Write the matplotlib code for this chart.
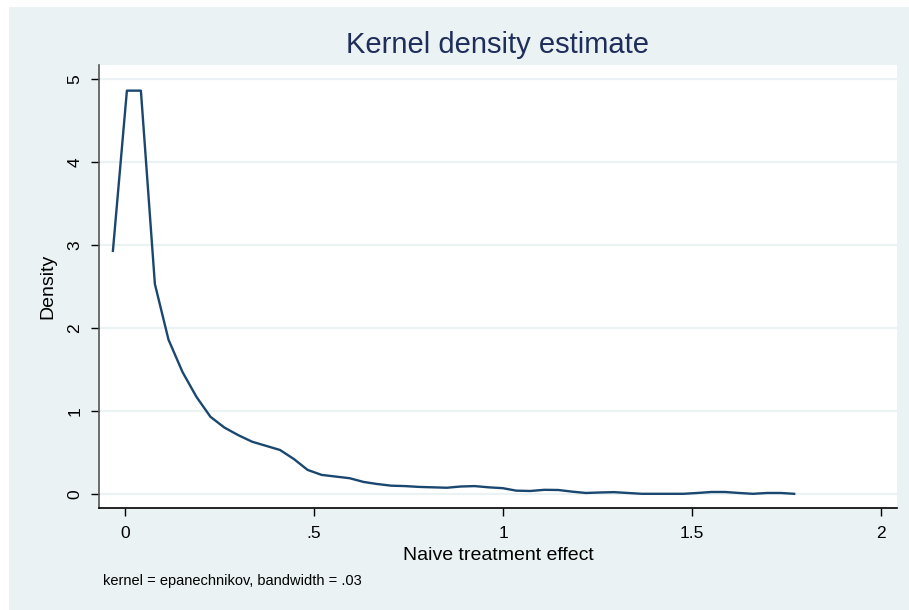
import matplotlib.pyplot as plt
from matplotlib.patches import Rectangle

plt.rcParams['font.family'] = ['Liberation Sans', 'DejaVu Sans']

# kernel density evaluation grid and estimated density
grid_x = [-0.032, 0.005, 0.042, 0.079, 0.115, 0.152, 0.189, 0.226, 0.263, 0.299,
          0.336, 0.373, 0.410, 0.447, 0.483, 0.520, 0.557, 0.594, 0.631, 0.667,
          0.704, 0.741, 0.778, 0.815, 0.851, 0.888, 0.925, 0.962, 0.999, 1.035,
          1.072, 1.109, 1.146, 1.183, 1.219, 1.256, 1.293, 1.330, 1.367, 1.403,
          1.440, 1.477, 1.514, 1.551, 1.587, 1.624, 1.661, 1.698, 1.735, 1.770]
density = [2.93, 4.86, 4.86, 2.53, 1.86, 1.47, 1.17, 0.93, 0.80, 0.71,
           0.63, 0.58, 0.53, 0.42, 0.29, 0.23, 0.21, 0.19, 0.145, 0.12,
           0.10, 0.095, 0.085, 0.08, 0.075, 0.09, 0.095, 0.08, 0.07, 0.04,
           0.036, 0.05, 0.048, 0.028, 0.012, 0.018, 0.022, 0.012, 0.002, 0.002,
           0.002, 0.002, 0.012, 0.024, 0.024, 0.012, 0.002, 0.012, 0.012, 0.002]

xticks = [0, 0.5, 1, 1.5, 2]
xtick_labels = ['0', '.5', '1', '1.5', '2']
yticks = [0, 1, 2, 3, 4, 5]

bg = '#eaf2f3'
navy = '#1a476f'

fig = plt.figure(figsize=(9.09, 6.10), dpi=100)
fig.patch.set_facecolor('white')
fig.patches.append(Rectangle((9 / 909, -0.01), 1.02, 1.01 - 7 / 610, transform=fig.transFigure,
                             facecolor=bg, edgecolor='none', zorder=-10))

ax = fig.add_axes([99 / 909, 1 - 508 / 610, (897 - 99) / 909, (508 - 65) / 610])
ax.set_facecolor('white')
ax.plot(grid_x, density, color=navy, lw=1.7, zorder=3)

ax.set_xlim(-0.0688, 2.042)
ax.set_ylim(-0.169, 5.169)
ax.set_xticks(xticks)
ax.set_xticklabels(xtick_labels)
ax.set_yticks(yticks)
ax.set_yticklabels([str(v) for v in yticks], rotation=90, va='center')
ax.tick_params(axis='both', direction='out', length=6, width=1, labelsize=12.5, colors='black')
ax.tick_params(axis='x', pad=7)
ax.tick_params(axis='y', pad=6)

ax.grid(axis='y', color=bg, lw=1.6, zorder=0)
ax.set_axisbelow(True)
for side in ['top', 'right']:
    ax.spines[side].set_visible(False)
ax.spines['left'].set_color('#555555')
ax.spines['bottom'].set_color('black')
ax.spines['left'].set_linewidth(1.2)
ax.spines['bottom'].set_linewidth(1.2)

ax.set_xlabel('Naive treatment effect', fontsize=14, labelpad=4)
ax.set_ylabel('Density', fontsize=14, labelpad=8)
fig.text(0.5 * (99 + 897) / 909, 1 - 45 / 610, 'Kernel density estimate',
         ha='center', va='center', fontsize=21, color='#1e2d5a')
fig.text(103 / 909, 1 - 581 / 610, 'kernel = epanechnikov, bandwidth = .03',
         ha='left', va='center', fontsize=10.5)

fig.savefig('out.png', dpi=100, facecolor=fig.get_facecolor())
